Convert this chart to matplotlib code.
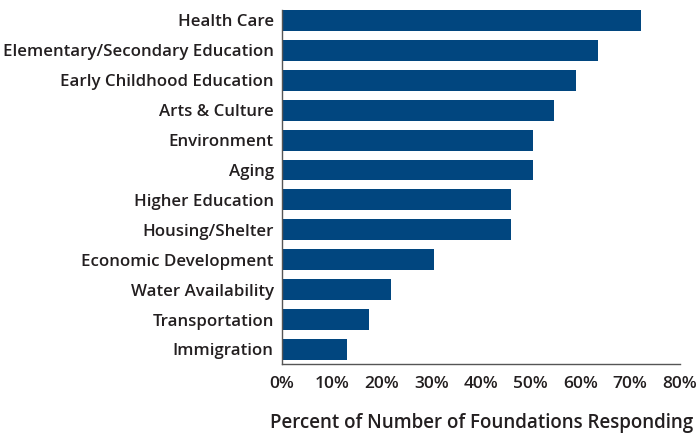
import matplotlib
matplotlib.use("Agg")
import matplotlib.pyplot as plt
from matplotlib.ticker import FuncFormatter

# share of foundations funding each area
areas = ["Health Care", "Elementary/Secondary Education", "Early Childhood Education",
         "Arts & Culture", "Environment", "Aging", "Higher Education", "Housing/Shelter",
         "Economic Development", "Water Availability", "Transportation", "Immigration"]
percents = [72.2, 63.5, 59.1, 54.6, 50.4, 50.4, 46.0, 46.0, 30.6, 22.0, 17.5, 13.1]
xticks = [0, 10, 20, 30, 40, 50, 60, 70, 80]

plt.rcParams["font.family"] = ["Open Sans", "DejaVu Sans"]
text_color = "#231f20"

fig = plt.figure(figsize=(7, 4.33), dpi=100)
ax = fig.add_axes([0.4029, 0.1594, 0.5685, 0.8175])

ax.barh(range(len(areas)), percents, height=0.7, color="#01467f")
ax.set_ylim(len(areas) - 0.515, -0.35)
ax.set_xlim(0, 80)

ax.set_yticks(range(len(areas)))
ax.set_yticklabels(areas, fontsize=12.2, fontweight="semibold", color=text_color)
ax.set_xticks(xticks)
ax.xaxis.set_major_formatter(FuncFormatter(lambda v, p: f"{v:.0f}%"))
for lbl in ax.get_xticklabels():
    lbl.set_fontsize(12.5)
    lbl.set_fontweight("semibold")
    lbl.set_color(text_color)
ax.tick_params(axis="both", length=0)
ax.tick_params(axis="y", pad=6)
ax.tick_params(axis="x", pad=9)

for side in ["top", "right"]:
    ax.spines[side].set_visible(False)
for side in ["left", "bottom"]:
    ax.spines[side].set_color("#555555")
    ax.spines[side].set_linewidth(1.0)

# axis title sits below the ticks, starting left of the plot and running to the edge
fig.text(270 / 700, 5 / 433, "Percent of Number of Foundations Responding",
         fontsize=13.5, fontweight="semibold", color=text_color,
         ha="left", va="baseline")

fig.savefig("out.png", dpi=100)
